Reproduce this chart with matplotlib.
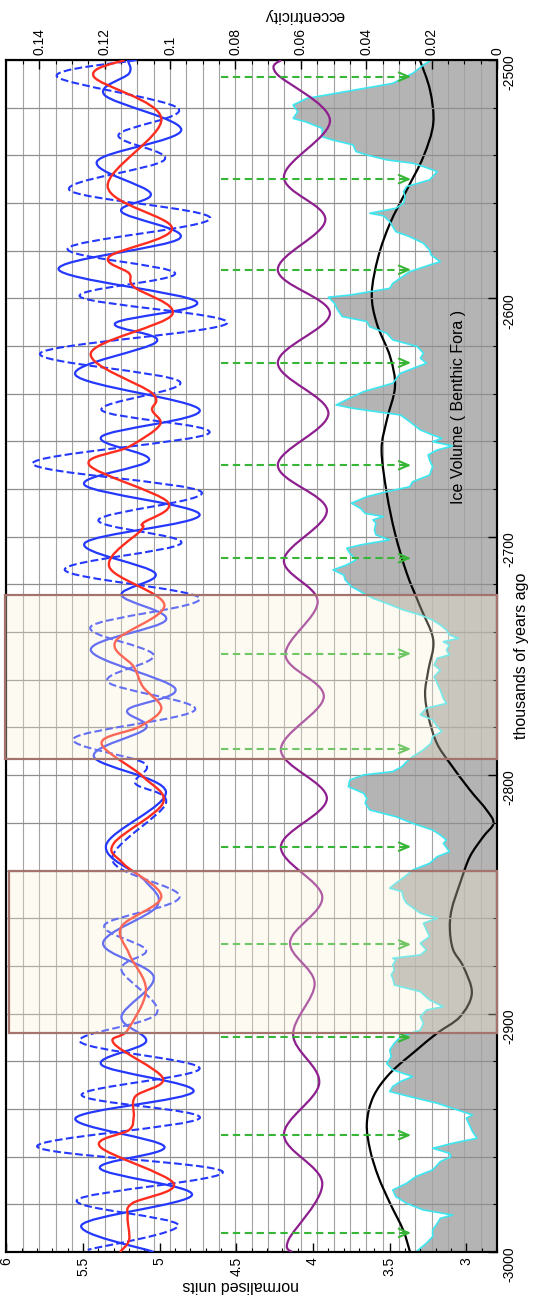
import numpy as np
import matplotlib
matplotlib.use("Agg")
import matplotlib.pyplot as plt
from matplotlib.path import Path
from matplotlib.patches import PathPatch
from matplotlib.ticker import MultipleLocator, FormatStrFormatter

plt.rcParams['font.family'] = ['Liberation Sans', 'DejaVu Sans']

# years are thousands of years ago, values in normalised units unless noted

# blue solid curve (turning points)
solid_year = [-2500.0, -2505.6, -2514.7, -2529.4, -2542.6, -2555.9, -2563.6, -2574.8, -2587.8,
              -2601.4, -2610.4, -2618.1, -2632.1, -2646.8, -2658.0, -2667.8, -2678.3, -2690.8,
              -2702.7, -2715.3, -2724.4, -2734.9, -2747.5, -2763.6, -2772.6, -2780.3, -2792.2,
              -2806.9, -2829.3, -2844.0, -2855.1, -2870.5, -2884.5, -2901.3, -2911.8, -2921.5,
              -2932.7, -2943.9, -2955.8, -2964.9, -2976.1, -2988.7, -3000.0]
solid_value = [5.21, 5.20, 5.36, 4.86, 5.41, 5.06, 5.25, 4.87, 5.66,
               4.76, 5.29, 5.02, 5.55, 4.74, 5.38, 5.07, 5.49, 4.74,
               5.49, 5.03, 5.25, 4.96, 5.45, 4.90, 5.21, 5.09, 5.43,
               4.96, 5.35, 5.10, 5.02, 5.37, 5.04, 5.25, 5.09, 5.38,
               4.78, 5.55, 4.97, 5.39, 4.79, 5.51, 5.04]

# blue dashed curve
dashed_year = [-2500.0, -2507.0, -2520.3, -2531.5, -2541.9, -2554.5, -2566.4, -2579.0, -2589.5,
               -2599.3, -2610.4, -2623.0, -2634.9, -2646.8, -2656.6, -2669.2, -2681.1, -2692.9,
               -2702.7, -2713.9, -2725.8, -2737.7, -2749.6, -2760.8, -2772.6, -2784.5, -2795.0,
               -2803.4, -2811.8, -2835.5, -2851.0, -2862.8, -2873.3, -2881.7, -2899.9, -2911.8,
               -2923.0, -2934.1, -2943.9, -2955.8, -2966.3, -2978.2, -2988.7, -2999.1]
dashed_value = [5.15, 5.67, 4.88, 5.27, 4.97, 5.59, 4.67, 5.60, 4.90,
                5.52, 4.56, 5.78, 4.87, 5.38, 4.68, 5.83, 4.73, 5.40,
                4.86, 5.62, 4.74, 5.45, 5.04, 5.34, 4.77, 5.56, 5.10,
                5.16, 4.96, 5.31, 4.87, 5.36, 5.09, 5.25, 5.02, 5.52,
                4.74, 5.51, 4.74, 5.80, 4.59, 5.54, 4.88, 5.47]

# red curve
red_year = [-2500.0, -2507.0, -2524.5, -2553.1, -2570.6, -2582.5, -2589.5, -2595.1, -2606.9,
            -2623.0, -2639.8, -2646.8, -2653.1, -2662.2, -2669.9, -2685.3, -2694.3, -2697.1,
            -2712.5, -2728.6, -2744.0, -2754.5, -2762.9, -2771.9, -2779.6, -2786.6, -2800.6,
            -2811.8, -2828.6, -2837.0, -2850.9, -2863.5, -2875.0, -2890.1, -2906.9, -2912.5,
            -2927.1, -2934.8, -2943.2, -2948.8, -2955.8, -2971.2, -2979.6, -2985.2, -2994.9,
            -3000.0]
red_value = [5.23, 5.43, 4.99, 5.34, 4.92, 5.33, 5.20, 5.17, 4.92,
             5.45, 5.05, 5.05, 5.00, 5.20, 5.46, 4.95, 5.11, 5.12,
             5.33, 4.97, 5.29, 5.17, 5.11, 4.99, 5.13, 5.38, 5.11,
             4.98, 5.30, 5.24, 4.99, 5.25, 5.20, 5.09, 5.21, 5.30,
             4.98, 5.16, 5.17, 5.20, 5.39, 4.91, 5.18, 5.21, 5.20,
             5.26]

# purple curve
purple_year = [-2500.0, -2505.6, -2525.2, -2548.9, -2567.1, -2588.1, -2606.3, -2627.0, -2648.2,
               -2669.9, -2688.8, -2709.7, -2727.2, -2749.6, -2767.1, -2789.4, -2809.7, -2830.0,
               -2850.9, -2870.0, -2887.3, -2909.0, -2929.2, -2950.9, -2971.2, -2994.9, -3000.0]
purple_value = [4.21, 4.24, 3.89, 4.19, 3.92, 4.23, 3.89, 4.23, 3.90,
                4.23, 3.91, 4.19, 3.97, 4.18, 3.93, 4.21, 3.91, 4.21,
                3.94, 4.15, 3.99, 4.13, 3.96, 4.19, 3.94, 4.16, 4.14]

# black curve, eccentricity scale
ecc_year = [-2500.0, -2512.6, -2526.6, -2540.5, -2554.5, -2568.5, -2582.5, -2597.9, -2610.4,
            -2624.4, -2637.0, -2651.0, -2663.6, -2681.8, -2698.5, -2715.3, -2729.3, -2743.3,
            -2755.9, -2765.6, -2775.4, -2786.6, -2795.0, -2806.2, -2814.6, -2820.2, -2825.8,
            -2834.2, -2845.3, -2856.5, -2864.9, -2873.3, -2880.3, -2891.5, -2901.3, -2908.3,
            -2915.3, -2925.0, -2934.8, -2946.0, -2957.2, -2968.4, -2979.6, -2990.8, -3000.0]
ecc_value = [0.0236, 0.0205, 0.0195, 0.0225, 0.0276, 0.0327, 0.0363, 0.0383, 0.0368,
             0.0327, 0.0312, 0.0337, 0.0353, 0.0337, 0.0312, 0.0276, 0.0235, 0.0195,
             0.0210, 0.0220, 0.0210, 0.0184, 0.0144, 0.0083, 0.0032, 0.0011, 0.0042,
             0.0083, 0.0113, 0.0139, 0.0144, 0.0134, 0.0103, 0.0077, 0.0113, 0.0184,
             0.0246, 0.0327, 0.0378, 0.0398, 0.0388, 0.0363, 0.0327, 0.0287, 0.0266]

# ice volume (benthic record)
ice_year = [-2500.0, -2502.1, -2505.6, -2509.8, -2516.1, -2518.9, -2521.7, -2524.5, -2525.9,
            -2528.7, -2532.2, -2533.6, -2535.6, -2538.4, -2539.8, -2541.9, -2543.3, -2544.7,
            -2546.8, -2550.3, -2553.1, -2555.2, -2557.3, -2560.1, -2562.2, -2564.3, -2565.4,
            -2567.8, -2572.0, -2574.1, -2576.9, -2579.7, -2581.8, -2584.6, -2586.0, -2588.8,
            -2593.7, -2595.8, -2598.6, -2599.5, -2602.1, -2604.8, -2607.6, -2609.7, -2611.9,
            -2614.6, -2617.4, -2620.2, -2623.0, -2625.1, -2627.2, -2631.4, -2635.6, -2639.1,
            -2641.2, -2644.7, -2646.1, -2647.5, -2648.9, -2651.7, -2655.2, -2657.3, -2658.7,
            -2660.1, -2661.9, -2663.6, -2665.7, -2667.8, -2670.6, -2674.1, -2676.9, -2679.0,
            -2681.1, -2683.2, -2685.9, -2688.1, -2690.2, -2691.5, -2692.9, -2694.3, -2697.1,
            -2699.2, -2701.3, -2703.4, -2704.8, -2706.9, -2709.7, -2711.8, -2713.9, -2716.0,
            -2718.1, -2720.9, -2723.7, -2725.8, -2727.9, -2730.7, -2732.8, -2734.9, -2737.0,
            -2739.1, -2741.2, -2742.6, -2744.0, -2745.4, -2747.5, -2749.5, -2751.0, -2753.8,
            -2755.9, -2758.7, -2761.5, -2764.3, -2767.8, -2769.9, -2771.9, -2774.7, -2776.8,
            -2779.6, -2781.7, -2783.8, -2786.6, -2789.4, -2792.2, -2795.0, -2796.4, -2798.5,
            -2799.9, -2802.0, -2804.8, -2807.6, -2809.7, -2811.8, -2814.6, -2817.4, -2820.2,
            -2823.0, -2825.1, -2827.2, -2828.6, -2832.1, -2834.2, -2837.0, -2839.8, -2842.5,
            -2845.3, -2847.4, -2848.8, -2851.6, -2853.7, -2857.9, -2860.0, -2862.1, -2864.9,
            -2867.7, -2870.5, -2873.3, -2875.4, -2876.8, -2877.5, -2879.6, -2881.7, -2883.8,
            -2885.2, -2888.0, -2890.8, -2894.3, -2897.1, -2898.5, -2901.3, -2904.1, -2906.9,
            -2909.7, -2912.5, -2915.3, -2918.1, -2920.9, -2923.6, -2926.4, -2928.5, -2930.6,
            -2932.7, -2934.8, -2937.6, -2940.4, -2942.5, -2943.9, -2946.7, -2949.5, -2952.3,
            -2954.4, -2956.5, -2958.6, -2960.0, -2962.1, -2965.6, -2968.4, -2971.2, -2974.0,
            -2976.8, -2979.6, -2982.4, -2984.5, -2985.9, -2988.0, -2990.8, -2993.6, -2996.3,
            -3000.0]
ice_value = [3.23, 3.28, 3.35, 3.48, 4.04, 4.13, 4.10, 4.13, 4.05,
             3.94, 3.94, 3.87, 3.74, 3.72, 3.65, 3.52, 3.35, 3.28,
             3.19, 3.24, 3.39, 3.41, 3.40, 3.41, 3.46, 3.63, 3.54,
             3.50, 3.46, 3.37, 3.28, 3.24, 3.23, 3.17, 3.24, 3.37,
             3.48, 3.50, 3.76, 3.90, 3.86, 3.84, 3.81, 3.65, 3.63,
             3.52, 3.48, 3.32, 3.28, 3.30, 3.26, 3.43, 3.48, 3.67,
             3.74, 3.85, 3.74, 3.59, 3.43, 3.37, 3.30, 3.22, 3.16,
             3.22, 3.09, 3.19, 3.25, 3.24, 3.22, 3.24, 3.35, 3.37,
             3.52, 3.65, 3.75, 3.69, 3.66, 3.54, 3.61, 3.59, 3.60,
             3.59, 3.50, 3.69, 3.78, 3.76, 3.72, 3.78, 3.87, 3.80,
             3.79, 3.75, 3.67, 3.61, 3.52, 3.41, 3.30, 3.22, 3.17,
             3.13, 3.11, 3.05, 3.15, 3.11, 3.13, 3.11, 3.19, 3.21,
             3.17, 3.21, 3.19, 3.17, 3.15, 3.13, 3.26, 3.30, 3.22,
             3.19, 3.16, 3.22, 3.23, 3.28, 3.35, 3.40, 3.42, 3.48,
             3.67, 3.76, 3.77, 3.67, 3.65, 3.66, 3.63, 3.46, 3.35,
             3.22, 3.17, 3.13, 3.15, 3.11, 3.19, 3.24, 3.35, 3.40,
             3.46, 3.50, 3.42, 3.41, 3.39, 3.30, 3.19, 3.28, 3.26,
             3.24, 3.30, 3.26, 3.30, 3.48, 3.46, 3.48, 3.47, 3.49,
             3.48, 3.47, 3.30, 3.24, 3.15, 3.26, 3.30, 3.28, 3.30,
             3.43, 3.47, 3.50, 3.49, 3.52, 3.48, 3.35, 3.43, 3.48,
             3.50, 3.37, 3.19, 3.06, 2.96, 3.00, 2.98, 2.96, 2.93,
             3.09, 3.22, 3.11, 3.10, 3.17, 3.22, 3.33, 3.39, 3.48,
             3.46, 3.39, 3.28, 3.09, 3.17, 3.19, 3.22, 3.22, 3.26,
             3.33]

# green arrows
arrow_year = [-2507, -2550, -2588, -2627, -2670, -2709, -2749, -2789, -2830, -2871, -2910, -2951, -2992]
arrow_from = 4.60
arrow_to = 3.36

# highlighted intervals
band_top = [-2724.4, -2840.0]
band_bottom = [-2793.3, -2908.0]

fill_base = 2.8

BLUE = '#2438ff'
RED = '#ff2d1f'
PURPLE = '#8e1f8e'
GREEN = '#36b536'
CYAN = '#3de6f0'


def smooth_path(xs, ys):
    # Catmull-Rom through the read points, drawn as Bezier segments
    pts = np.column_stack([xs, ys]).astype(float)
    pad = np.vstack([pts[0], pts, pts[-1]])
    verts = [pts[0]]
    codes = [Path.MOVETO]
    for i in range(len(pts) - 1):
        p0, p1, p2, p3 = pad[i], pad[i + 1], pad[i + 2], pad[i + 3]
        verts += [p1 + (p2 - p0) / 6.0, p2 - (p3 - p1) / 6.0, p2]
        codes += [Path.CURVE4] * 3
    return Path(verts, codes)


fig = plt.figure(figsize=(5.48, 13.04), dpi=100)
ax = fig.add_axes([0.01186, 0.0399, 0.8951, 0.9141])
ax2 = ax.twiny()
ax.set_zorder(2)
ax2.set_zorder(1)
ax.patch.set_visible(False)
ax2.patch.set_facecolor('white')

# bottom layer: fill, vertical grid, eccentricity
ax2.fill_betweenx(ice_year, ice_value, fill_base, transform=ax.transData,
                  facecolor='#b4b4b4', edgecolor='none', zorder=1)
ax2.set_axisbelow('line')
ax2.grid(axis='x', which='both', color='#a2a2a2', lw=0.8)
ax2.add_patch(PathPatch(smooth_path(ecc_value, ecc_year), fill=False,
                        edgecolor='black', lw=1.6, zorder=2))

# top layer
ax.set_axisbelow(True)
ax.grid(axis='y', which='both', color='#8e8e8e', lw=0.9)
ax.plot(ice_value, ice_year, color=CYAN, lw=1.2, zorder=2)
ax.add_patch(PathPatch(smooth_path(purple_value, purple_year), fill=False,
                       edgecolor=PURPLE, lw=1.6, zorder=3))
ax.add_patch(PathPatch(smooth_path(dashed_value, dashed_year), fill=False,
                       edgecolor=BLUE, lw=1.5, linestyle='--', zorder=3))
ax.add_patch(PathPatch(smooth_path(solid_value, solid_year), fill=False,
                       edgecolor=BLUE, lw=1.6, zorder=3))
ax.add_patch(PathPatch(smooth_path(red_value, red_year), fill=False,
                       edgecolor=RED, lw=1.7, zorder=4))

for yr in arrow_year:
    ax.plot([arrow_from, arrow_to], [yr, yr], color=GREEN, lw=1.5,
            linestyle=(0, (3.5, 2.2)), zorder=3)
    ax.annotate('', xy=(arrow_to, yr), xytext=(arrow_to + 0.05, yr),
                arrowprops=dict(arrowstyle='->,head_length=0.7,head_width=0.3',
                                color=GREEN, lw=1.5, shrinkA=0, shrinkB=0),
                zorder=3)

for i, (top, bot) in enumerate(zip(band_top, band_bottom)):
    ax.axhspan(bot, top, xmin=-0.003 if i == 0 else 0.005, xmax=1.0,
               facecolor=(0.98, 0.94, 0.84, 0.3), edgecolor='#a5736e',
               lw=1.6, zorder=5, clip_on=False)

ax.text(3.05, -2645.6, 'Ice Volume ( Benthic Fora )', rotation=90,
        ha='center', va='center', fontsize=11.5)

# axes
ax.set_xlim(6, fill_base)
ax.set_ylim(-3000, -2500)
ax2.set_xlim(0.15, 0)

ax.xaxis.set_major_locator(MultipleLocator(0.5))
ax.xaxis.set_minor_locator(MultipleLocator(0.1))
ax.xaxis.set_major_formatter(FormatStrFormatter('%g'))
ax.yaxis.set_major_locator(MultipleLocator(100))
ax.yaxis.set_minor_locator(MultipleLocator(20))
ax.yaxis.set_major_formatter(FormatStrFormatter('%g'))
ax2.xaxis.set_major_locator(MultipleLocator(0.02))
ax2.xaxis.set_minor_locator(MultipleLocator(0.005))
ax2.xaxis.set_major_formatter(FormatStrFormatter('%g'))

ax.tick_params(axis='x', which='both', direction='in', bottom=True, top=False,
               labelbottom=True, labeltop=False, labelrotation=90, labelsize=10)
ax.tick_params(axis='y', which='both', direction='in', left=False, right=True,
               labelleft=False, labelright=True, labelrotation=90, labelsize=10)
ax2.tick_params(axis='x', which='both', direction='in', top=True, bottom=False,
                labeltop=True, labelbottom=False, labelrotation=90, labelsize=10)
for a in (ax, ax2):
    a.tick_params(which='major', length=6.5, width=1)
    a.tick_params(which='minor', length=3, width=0.8)
    for s in a.spines.values():
        s.set_linewidth(1.5)

ax.set_xlabel('normalised units', fontsize=11.5, rotation=180, ha='center', va='center')
ax.xaxis.set_label_coords(0.478, -0.028)
ax2.set_xlabel('eccentricity', fontsize=11.5, rotation=180, ha='center', va='center')
ax2.xaxis.set_label_coords(0.6065, 1.037)
ax.set_ylabel('thousands of years ago', fontsize=11.5, rotation=90, ha='center', va='center')
ax.yaxis.set_label_position('right')
ax.yaxis.set_label_coords(1.0347, 0.50)

fig.savefig('out.png', dpi=100)
